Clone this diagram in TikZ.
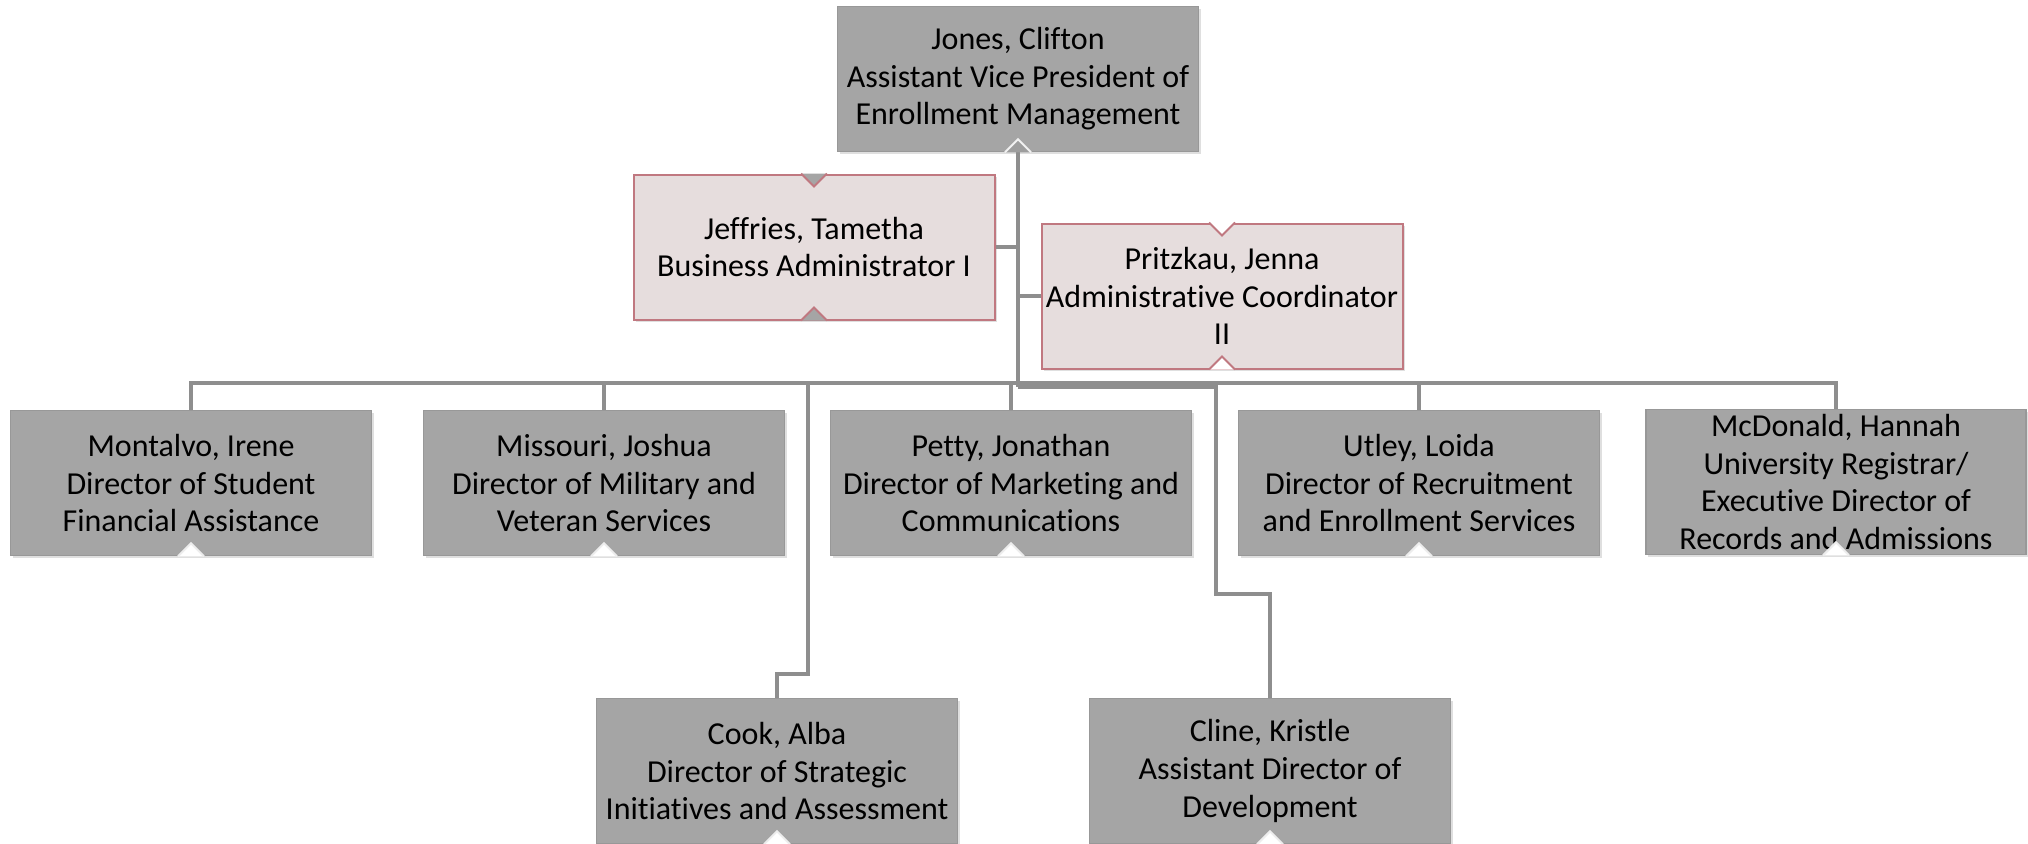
\documentclass[tikz,border=0pt]{standalone}
\usepackage{fontspec}
\setmainfont[Ligatures=NoCommon]{Carlito}
\usepackage{tikz}
\usetikzlibrary{positioning,shadows,calc}
\definecolor{boxgray}{HTML}{A5A5A5}
\definecolor{boxedge}{HTML}{989898}
\definecolor{rosefill}{HTML}{E6DDDD}
\definecolor{roseedge}{HTML}{C07880}
\definecolor{linkgray}{HTML}{8E8E8E}
% small V cut at the bottom / top of a box
\newcommand{\notchup}[3]{%
  \fill[#2] ($(#1.south)+(-13,0)$) -- ++(13,-13) -- ++(13,13) -- cycle;
  \draw[#3,line width=1pt] ($(#1.south)+(-13,0)$) -- ++(13,-13) -- ++(13,13);}
\newcommand{\notchdown}[3]{%
  \fill[#2] ($(#1.north)+(-13,0)$) -- ++(13,13) -- ++(13,-13) -- cycle;
  \draw[#3,line width=1pt] ($(#1.north)+(-13,0)$) -- ++(13,13) -- ++(13,-13);}

\begin{document}
\begin{tikzpicture}[x=0.5pt,y=-0.5pt]
  \tikzset{post/.style={rectangle,align=center,inner sep=2pt,
      minimum width=180.5pt,minimum height=72.5pt,
      font=\fontsize{16}{18.8}\selectfont,
      drop shadow={shadow xshift=1.2pt,shadow yshift=-1.2pt,opacity=0.25}}}
  \tikzset{unit/.style={post,fill=boxgray,draw=boxedge,line width=0.8pt}}
  \tikzset{aide/.style={post,fill=rosefill,draw=roseedge,line width=1pt}}
  \tikzset{link/.style={draw=linkgray,line width=1.75pt}}
  \useasboundingbox (0,0) rectangle (2028,843);
  \node[unit] (jones) at (1018,79) {Jones, Clifton\\Assistant Vice President of\\Enrollment Management};
  \node[aide] (jeffries) at (814,247) {Jeffries, Tametha\\Business Administrator I};
  \node[aide] (pritzkau) at (1222,296) {Pritzkau, Jenna\\Administrative Coordinator\\II};
  \node[unit] (montalvo) at (191,483) {Montalvo, Irene\\Director of Student\\Financial Assistance};
  \node[unit] (missouri) at (604,483) {Missouri, Joshua\\Director of Military and\\Veteran Services};
  \node[unit] (petty) at (1011,483) {Petty, Jonathan\\Director of Marketing and\\Communications};
  \node[unit] (utley) at (1419,483) {Utley, Loida\\Director of Recruitment\\and Enrollment Services};
  \node[unit,minimum width=190pt] (mcdonald) at (1836,482) {McDonald, Hannah\\University Registrar/\\Executive Director of\\Records and Admissions};
  \node[unit] (cook) at (777,771) {Cook, Alba\\Director of Strategic\\Initiatives and Assessment};
  \node[unit] (cline) at (1270,771) {Cline, Kristle\\Assistant Director of\\Development};
  \coordinate (hub) at (1018,383);
  \coordinate (hublow) at (1018,387);
  \coordinate (cookbend) at (808,674);
  \coordinate (clinebend) at (1216,594);
  \draw[link] (jones.south) -- (hublow);
  \draw[link] (jeffries.east) -- (jeffries.east -| jones.south);
  \draw[link] (pritzkau.west) -- (pritzkau.west -| jones.south);
  \foreach \n in {montalvo,missouri,petty,utley,mcdonald}
    \draw[link] (hub) -| (\n.north);
  \draw[link] (hub) -| (cookbend) -| (cook.north);
  \draw[link] (hublow) -| (clinebend) -| (cline.north);
  \notchup{jones}{boxgray!70!linkgray}{white!85!boxgray}
  \notchdown{jeffries}{boxgray}{roseedge}
  \notchup{jeffries}{boxgray}{roseedge}
  \notchdown{pritzkau}{white}{roseedge}
  \notchup{pritzkau}{white}{roseedge}
  \foreach \n in {montalvo,missouri,petty,utley,mcdonald,cook,cline}
    {\notchup{\n}{white}{white!80!boxgray}}
\end{tikzpicture}
\end{document}
